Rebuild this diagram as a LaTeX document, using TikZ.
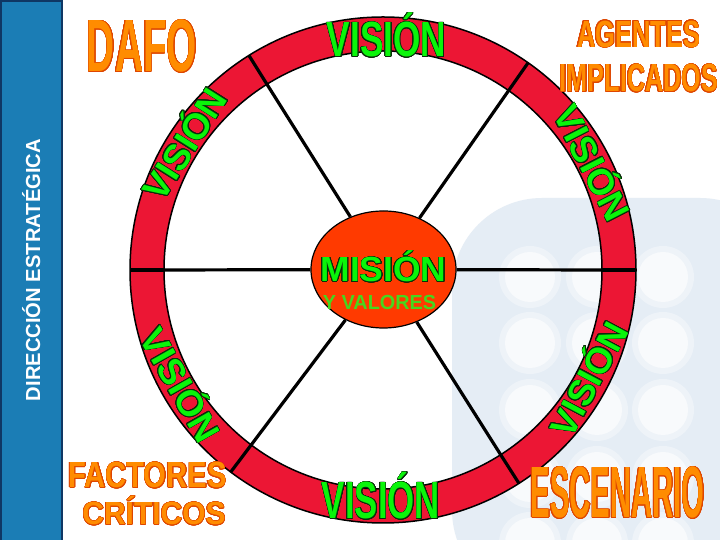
\documentclass[tikz,border=0pt]{standalone}
\usepackage{fontspec}
\setmainfont{Liberation Sans}
\usepackage{graphicx}
\usepackage{contour}
\usetikzlibrary{shapes.geometric}
\contourlength{0.65pt}
\contournumber{24}
\definecolor{ringred}{RGB}{236,22,52}
\definecolor{misred}{RGB}{255,58,0}
\definecolor{wgreen}{RGB}{10,245,10}
\definecolor{gline}{RGB}{10,45,10}
\definecolor{worange}{RGB}{255,140,0}
\definecolor{oline}{RGB}{222,70,0}
\definecolor{ygreen}{RGB}{70,215,30}
\definecolor{barblue}{RGB}{27,125,181}
\definecolor{bardark}{RGB}{15,55,100}
\definecolor{wmblue}{RGB}{229,237,245}
\newcommand{\capbox}[3]{\resizebox{#1}{#2}{\raisebox{0pt}[\fontcharht\font`E][0pt]{#3}}}
\newcommand{\wart}[4]{\contour{#3}{\capbox{#1}{#2}{#4}}}
\begin{document}
\begin{tikzpicture}[x=1pt,y=1pt,
  lbl/.style={inner sep=0pt, font=\bfseries},
  gword/.style={lbl, text=wgreen},
  oword/.style={lbl, text=worange},
  spoke/.style={line width=3.2pt, black},
  rim/.style={line width=1.5pt, black}]
\useasboundingbox (0,0) rectangle (720,540);
\fill[white] (0,0) rectangle (720,540);
% watermark
\fill[wmblue, rounded corners=90pt] (452,-60) rectangle (790,342);
\foreach \x in {530,597,663}
  \foreach \y in {263,197,130,63,-3} {
    \fill[white, opacity=0.35] (\x,\y) circle (31);
    \fill[white, opacity=0.6] (\x,\y) circle (25);
  }
% blue bar
\fill[barblue] (0,0) rectangle (62,540);
\draw[bardark, line width=2pt] (1,-5) rectangle (62,539);
\node[rotate=90, text=white, font=\bfseries, inner sep=0pt] (dir) at (33,270)
  {\capbox{262pt}{14pt}{DIRECCIÓN ESTRATÉGICA}};
% ring
\coordinate (c) at (383,270);
\fill[ringred, even odd rule] (c) circle (253) (c) circle (219);
\node[ellipse, draw, line width=1.2pt, fill=misred, minimum width=145pt,
  minimum height=117pt, inner sep=0pt] (m) at (383.5,270.5) {};
\foreach \a [count=\i] in {0,55,122,180,233,302.5} {
  \coordinate (in\i) at ([shift={(\a:219)}]c);
  \coordinate (out\i) at ([shift={(\a:253)}]c);
  \draw[spoke] (m) -- (in\i);
  \draw[spoke] (in\i) -- (out\i);
}
\draw[rim] (c) circle (253);
\draw[rim] (c) circle (219);
% labels
\node[oword] (dafo) at (142,493.5) {\wart{110pt}{51pt}{oline}{DAFO}};
\node[gword] (vt) at (386.5,500) {\wart{119pt}{34pt}{gline}{VISIÓN}};
\node[oword] (ag) at (638.5,505.5) {\wart{123pt}{26pt}{oline}{AGENTES}};
\node[oword] (imp) at (639,461.5) {\wart{158pt}{27pt}{oline}{IMPLICADOS}};
\node[oword] (fac) at (147.5,64.5) {\wart{158pt}{25pt}{oline}{FACTORES}};
\node[oword] (cri) at (154,26) {\wart{143pt}{22pt}{oline}{CRÍTICOS}};
\node[oword] (esc) at (617.5,47) {\wart{174pt}{50pt}{oline}{ESCENARIO}};
\node[gword] (vb) at (381,39) {\wart{118pt}{36pt}{gline}{VISIÓN}};
\node[gword] (mis) at (383.5,270) {\wart{126pt}{24pt}{gline}{MISIÓN}};
\node[lbl, text=ygreen] (yv) at (379.5,237) {\capbox{113pt}{14pt}{Y VALORES}};
% ring texts
\node[gword, rotate=57.6] (vul) at ([shift={(147.6:234)}]c) {\wart{124pt}{25pt}{gline}{VISIÓN}};
\node[gword, rotate=-62.9] (vur) at ([shift={(27.1:234)}]c) {\wart{124pt}{25pt}{gline}{VISIÓN}};
\node[gword, rotate=62] (vlr) at ([shift={(-28:234)}]c) {\wart{124pt}{25pt}{gline}{VISIÓN}};
\node[gword, rotate=-60.5] (vll) at ([shift={(209.5:234)}]c) {\wart{124pt}{25pt}{gline}{VISIÓN}};
\end{tikzpicture}
\end{document}
